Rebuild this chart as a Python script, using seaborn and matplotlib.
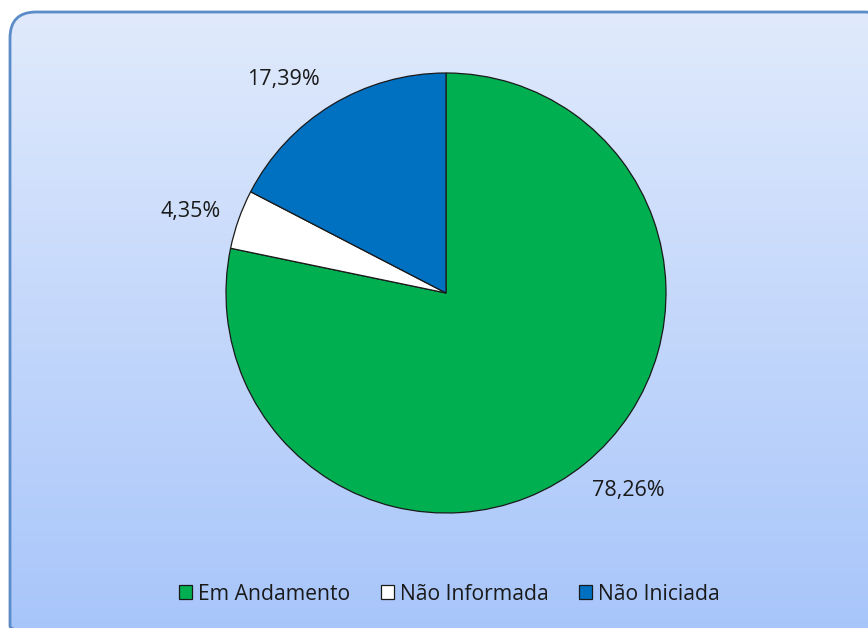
import numpy as np
import matplotlib
matplotlib.use("Agg")
import matplotlib.pyplot as plt
import seaborn as sns
from matplotlib.patches import FancyBboxPatch, Patch

categories = ["Em Andamento", "Não Informada", "Não Iniciada"]
values = [78.26, 4.35, 17.39]
labels = ["78,26%", "4,35%", "17,39%"]
colors = ["#00B050", "#FFFFFF", "#0070C0"]

sns.set_theme(style="white")
plt.rcParams['font.family'] = ['Open Sans', 'DejaVu Sans']

W, H = 868, 628
fig = plt.figure(figsize=(W / 100, H / 100), dpi=100)
fig.patch.set_facecolor("white")

# background with rounded, gradient-filled frame
bg = fig.add_axes([0, 0, 1, 1])
bg.set_xlim(0, W)
bg.set_ylim(H, 0)
bg.axis("off")
frame = FancyBboxPatch((10, 12), 880, 640, boxstyle="round,pad=0,rounding_size=26",
                       facecolor="none", edgecolor="#5B8CC8", linewidth=2.0, zorder=3)
bg.add_patch(frame)
grad = np.linspace(0, 1, 256).reshape(-1, 1)
top = np.array([0xE0, 0xEA, 0xFC]) / 255
bot = np.array([0xA6, 0xC4, 0xFA]) / 255
img = top[None, None, :] * (1 - grad[:, :, None]) + bot[None, None, :] * grad[:, :, None]
im = bg.imshow(img, extent=(10, 890, 652, 12), aspect="auto", zorder=1)
im.set_clip_path(frame)

# pie
cx, cy, r = 446, 293, 220
ax = fig.add_axes([(cx - r) / W, (H - cy - r) / H, 2 * r / W, 2 * r / H])
ax.set_facecolor("none")
wedges, _ = ax.pie(values, colors=colors, startangle=90, counterclock=False,
                   wedgeprops=dict(edgecolor="#1a1a1a", linewidth=0.9), radius=1)
ax.set_xlim(-1, 1)
ax.set_ylim(-1, 1)
ax.axis("off")

nudges = [3.6, 1.9, 6.1]
for w, lab, nd in zip(wedges, labels, nudges):
    mid = np.deg2rad((w.theta1 + w.theta2) / 2 + nd)
    ax.text(1.22 * np.cos(mid), 1.22 * np.sin(mid), lab, ha="center", va="center",
            fontsize=15.5, color="#1a1a1a", clip_on=False)

handles = [Patch(facecolor=c, edgecolor="#1a1a1a", linewidth=0.9) for c in colors]
fig.legend(handles, categories, loc="center", bbox_to_anchor=(0.518, 1 - 594 / H), ncol=3,
           frameon=False, fontsize=15.2, handlelength=0.6, handleheight=0.6,
           handletextpad=0.3, columnspacing=1.45, labelcolor="#1a1a1a")

fig.savefig("out.png", dpi=100, facecolor=fig.get_facecolor())
